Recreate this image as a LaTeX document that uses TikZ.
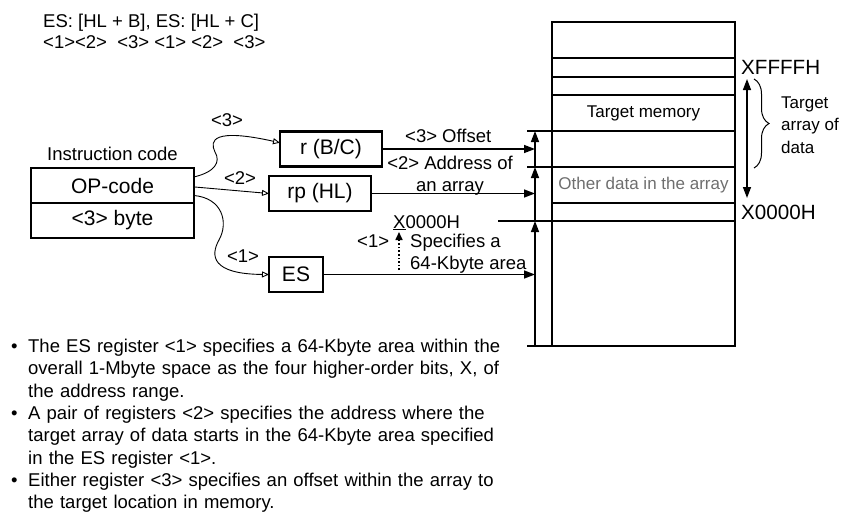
\documentclass[tikz,border=0pt]{standalone}
\usepackage{fontspec}
\setmainfont{Liberation Sans}
\usetikzlibrary{arrows.meta,positioning,decorations.pathreplacing}
\definecolor{othergray}{RGB}{110,110,110}

\begin{document}
\begin{tikzpicture}[
  x=1pt, y=-1pt,
  lbl/.style={font=\fontsize{18.5}{22.3}\selectfont, inner sep=0pt},
  regbox/.style={draw, line width=2.4pt, outer sep=0pt, minimum height=35pt,
                 inner sep=2pt, font=\fontsize{21}{25}\selectfont},
  memtext/.style={font=\fontsize{17}{21}\selectfont, inner sep=0pt},
  addr/.style={font=\fontsize{20.6}{24}\selectfont, inner sep=0pt},
  feed/.style={-{Triangle[open,length=7pt,width=6pt]}, line width=.9pt},
  ptr/.style={-{Triangle[length=11pt,width=8pt]}, line width=1.4pt},
  span/.style={{Triangle[length=11pt,width=8pt]}-{Triangle[length=11pt,width=8pt]},
               line width=1.4pt},
  tick/.style={line width=1.2pt},
  rowline/.style={line width=1.3pt}
]
\useasboundingbox (0,0) rectangle (847,512);

% addressing syntax
\node[lbl, anchor=base west] (syntax) at (43,27) {ES: [HL + B], ES: [HL + C]};
\node[lbl, anchor=base west] (tags) at (43,48) {<1><2>\ \ <3> <1> <2>\ \ <3>};

% instruction code
\node[regbox, minimum width=163pt] (opcode) at (112.5,185.5) {OP-code};
\node[regbox, minimum width=163pt, below=0pt of opcode] (byte) {<3> byte};
\node[lbl, above=7pt of opcode] (instr) {Instruction code};

% registers
\node[regbox, minimum width=102pt] (rbc) at (331,149) {r (B/C)};
\node[regbox, minimum width=102pt] (rphl) at (320,193.5) {rp (HL)};
\node[regbox, minimum width=54pt] (es) at (296,274.5) {ES};

\draw[feed] (opcode.6) .. controls (215,172) and (221,162) .. (215,152)
  .. controls (209,140) and (214,128) .. (rbc.173);
\draw[feed] (opcode.-1) -- (rphl.west);
\draw[feed] (opcode.-7) .. controls (222,198) and (229,222) .. (219,240)
  .. controls (210,256) and (212,274) .. (es.west);
\node[lbl] (sel3) at (227,120) {<3>};
\node[lbl] (sel2) at (240,178) {<2>};
\node[lbl] (sel1) at (243,256) {<1>};

% memory map
\node[draw, line width=2.4pt, outer sep=0pt, minimum width=183pt,
      minimum height=324pt] (memory) at (643.5,184) {};
\foreach \y in {58,77,95,131,167,203,221}
  \draw[rowline] (memory.west |- 0,\y) -- (memory.east |- 0,\y);
\node[memtext] (target) at (643.5,113) {Target memory};
\node[memtext, text=othergray] (other) at (643.5,185) {Other data in the array};
\node[addr, anchor=west] (top) at (741,67) {XFFFFH};
\node[addr, anchor=west] (base) at (741,212) {X0000H};

\coordinate (spantop) at (747,79);
\coordinate (spanbot) at (747,198);
\draw[span] (spantop) -- (spanbot);
\coordinate (bracetop) at (754,79);
\coordinate (bracebot) at (754,168);
\draw[line width=1pt, decorate, decoration={brace, amplitude=15pt}]
  (bracetop) -- (bracebot);
\node[lbl, font=\fontsize{17}{22.5}\selectfont, anchor=west, align=left]
  (arraylbl) at (781,125) {Target\\array of\\data};

% address axis
\coordinate (ax0) at (535,346);
\coordinate (ax1) at (535,221);
\coordinate (ax2) at (535,167);
\coordinate (ax3) at (535,131);
\draw[tick] (527,346) -- (memory.south west);
\draw[tick] (498,221) -- (memory.west |- ax1);
\draw[tick] (527,167) -- (memory.west |- ax2);
\draw[tick] (527,131) -- (memory.west |- ax3);
\draw[ptr] (ax0) -- (ax1);
\draw[ptr] (ax1) -- (ax2);
\draw[ptr] (ax2) -- (ax3);

\draw[ptr] (rbc) -- (rbc -| ax0);
\draw[ptr] (rphl) -- (rphl -| ax0);
\draw[ptr] (es) -- (es -| ax0);

\node[lbl, anchor=base west] (offset) at (405,142) {<3> Offset};
\node[lbl, align=center] (arraddr) at (450,176) {<2> Address of\\an array};
\node[lbl, anchor=base west] (xbase) at (393,228) {\underline{X}0000H};
\node[lbl, anchor=base west] (esnum) at (357,247) {<1>};
\coordinate (dotlow) at (399,270);
\coordinate (dottop) at (399,232);
\draw[-{Triangle[length=8pt,width=7pt]}, dotted, line width=1.6pt] (dotlow) -- (dottop);
\node[lbl, anchor=north west, align=left] (area) at (410,233.5)
  {Specifies a\\64-Kbyte area};

% notes
\node[lbl, anchor=north west, text width=520pt, align=left] (notes) at (10,339) {%
  \leftskip=18pt
  \hspace*{-17pt}\makebox[17pt][l]{\textbullet}The ES register <1> specifies a 64-Kbyte area within the\\
  overall 1-Mbyte space as the four higher-order bits, X, of\\
  the address range.\\
  \hspace*{-17pt}\makebox[17pt][l]{\textbullet}A pair of registers <2> specifies the address where the\\
  target array of data starts in the 64-Kbyte area specified\\
  in the ES register <1>.\\
  \hspace*{-17pt}\makebox[17pt][l]{\textbullet}Either register <3> specifies an offset within the array to\\
  the target location in memory.\par};
\end{tikzpicture}
\end{document}
